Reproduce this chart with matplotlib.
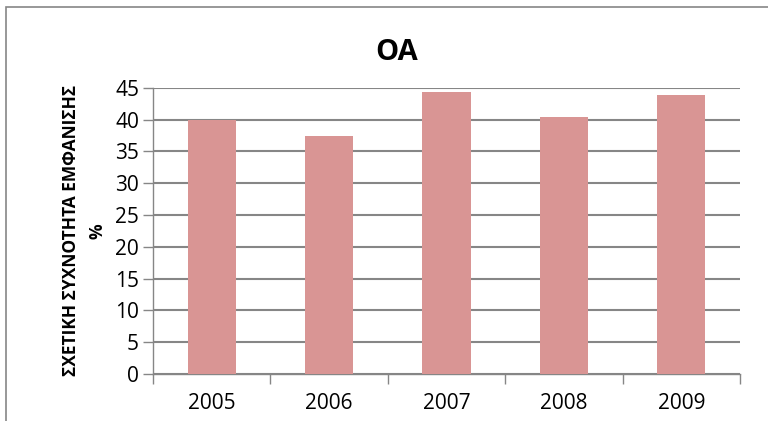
import matplotlib.pyplot as plt
from matplotlib.patches import Rectangle
import numpy as np

years = ["2005", "2006", "2007", "2008", "2009"]
values = [40.0, 37.4, 44.4, 40.4, 43.9]

plt.rcParams['font.family'] = ['Open Sans', 'DejaVu Sans']

fig = plt.figure(figsize=(7.68, 4.21), dpi=100)
ax = fig.add_axes([153/768, 47/421, 587/768, 286.3/421])

x = np.arange(len(years))
ax.bar(x, values, width=0.41, color="#D99594", zorder=3)

ax.set_xlim(-0.5, len(years) - 0.5)
ax.set_ylim(0, 45)
ax.set_yticks(np.arange(0, 46, 5))
ax.set_xticks(x)
ax.set_xticklabels(years, fontsize=15)
ax.set_xticks(np.arange(-0.5, len(years), 1), minor=True)
ax.tick_params(axis="x", which="major", length=0, pad=14)
ax.tick_params(axis="x", which="minor", length=7, color="#868686", width=1)
ax.tick_params(axis="y", length=7, color="#868686", width=1, labelsize=15, pad=3)

ax.yaxis.grid(True, color="#868686", linewidth=1.5, zorder=0)
for s in ["top", "right"]:
    ax.spines[s].set_visible(False)
for s in ["left", "bottom"]:
    ax.spines[s].set_color("#868686")
    ax.spines[s].set_linewidth(1)

ax.set_ylabel("ΣΧΕΤΙΚΗ ΣΥΧΝΟΤΗΤΑ ΕΜΦΑΝΙΣΗΣ\n%", fontsize=12.5, fontweight="bold",
              labelpad=6, linespacing=1.6, family=['Liberation Sans Narrow', 'Open Sans', 'DejaVu Sans'])

fig.text(397/768, 1 - 52/421, "OA", fontsize=21, fontweight="bold", ha="center", va="center")

# outer chart border (only left and top visible)
fig.patches.append(Rectangle((5.5/768, -0.1), 2, 1 - 7/421 + 0.1, transform=fig.transFigure,
                             fill=False, edgecolor="#868686", linewidth=1.2))

fig.savefig("out.png", dpi=100)
